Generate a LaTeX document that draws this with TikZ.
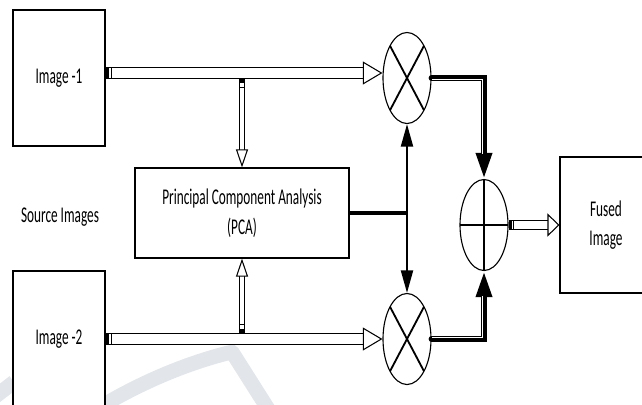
\documentclass[tikz,border=0pt]{standalone}
\usepackage{fontspec}
\setmainfont{Carlito}[FakeStretch=0.59]
\usetikzlibrary{shapes.geometric,arrows.meta}
\definecolor{wmark}{RGB}{226,230,235}

\begin{document}
\begin{tikzpicture}[x=0.025cm,y=-0.025cm,
  every node/.style={font=\fontsize{16}{21}\selectfont},
  box/.style={draw,fill=white,line width=0.8pt,inner sep=0pt,align=center},
  imgbox/.style={box,minimum width=2.3cm,minimum height=3.4cm},
  oval/.style={ellipse,draw,fill=white,line width=0.8pt,inner sep=0pt,
    minimum width=1.2cm,minimum height=2.275cm},
  mult/.style={oval,path picture={
    \draw[line width=1.3pt] (path picture bounding box.north west) -- (path picture bounding box.south east)
      (path picture bounding box.north east) -- (path picture bounding box.south west);}},
  adder/.style={oval,path picture={
    \draw[line width=1.3pt] (path picture bounding box.north) -- (path picture bounding box.south)
      (path picture bounding box.west) -- (path picture bounding box.east);}},
  % hollow block arrows
  hollowh/.style={double=white,line width=0.75pt,double distance=7pt,
    {Rectangle[length=1.4pt,width=8.5pt] Rectangle[open,fill=white,length=3.5pt,width=8.5pt]}-{Triangle[open,fill=white,length=14pt,width=16.4pt]}},
  hollowv/.style={double=white,line width=0.75pt,double distance=2.8pt,
    {Rectangle[length=2pt,width=4.3pt] Rectangle[open,fill=white,length=4.5pt,width=4.3pt]}-{Triangle[open,fill=white,length=12.8pt,width=8.5pt]}},
  hollowo/.style={double=white,line width=0.75pt,double distance=6.3pt,
    {Rectangle[open,fill=white,length=2pt,width=7.8pt] Rectangle[open,fill=white,length=2pt,width=7.8pt]}-{Triangle[open,fill=white,length=8.5pt,width=16.4pt]}},
  % weight lines
  ctrl/.style={line width=1.5pt,-{Triangle[length=16pt,width=8.5pt]}},
  fusewire/.style={line width=4.2pt,line cap=round,-{Triangle[length=18.5pt,width=10.7pt]}},
  gap/.style={white,line width=0.6pt,shorten >=19pt,shorten <=1.5pt},
  swoosh/.style={wmark,line width=10.5pt,line join=round}
]
\useasboundingbox (0,0) rectangle (642,404);

% background swoosh
\draw[swoosh] (-12,402) -- (14,382);
\draw[swoosh] (92,412) .. controls (140,382) and (190,362) .. (232,352) -- (270,412);

% blocks
\node[imgbox] (img1) at (59,78) {Image -1};
\node[imgbox] (img2) at (59,339) {Image -2};
\node (src) at (60,217) {Source Images};
\node[box,minimum width=5.35cm,minimum height=2.25cm] (pca) at (242,213) {Principal Component Analysis\\(PCA)};
\node[mult] (mul1) at (407,78) {};
\node[mult] (mul2) at (407,339) {};
\node[adder] (sum) at (484,225) {};
\node[imgbox] (fused) at (606,225) {Fused\\Image};

\coordinate (tap1) at (242,79);
\coordinate (tap2) at (242,333);
\coordinate (junc) at (407,213);

% images into PCA
\draw[hollowv] (tap1) -- (pca.north);
\draw[hollowv] (tap2) -- (pca.south);

% images into multipliers
\draw[hollowh] ([yshift=0.125cm]img1.east) -- ([yshift=0.125cm]mul1.west);
\draw[hollowh] (img2.east) -- (mul2.west);

% PCA weights
\draw[line width=2.8pt] (pca.east) -- (junc);
\draw[ctrl] (junc) -- (mul1.south);
\draw[ctrl] (junc) -- (mul2.north);

% weighted images into adder
\draw[fusewire] (mul1.east) -| (sum.north);
\draw[gap,transform canvas={shift={(-1.4,1.4)}}] (mul1.east) -| (sum.north);
\draw[fusewire] (mul2.east) -| (sum.south);
\draw[gap,transform canvas={shift={(-1.4,-1.4)}}] (mul2.east) -| (sum.south);

% output
\draw[hollowo] (sum.east) -- (fused.west);

\end{tikzpicture}
\end{document}
